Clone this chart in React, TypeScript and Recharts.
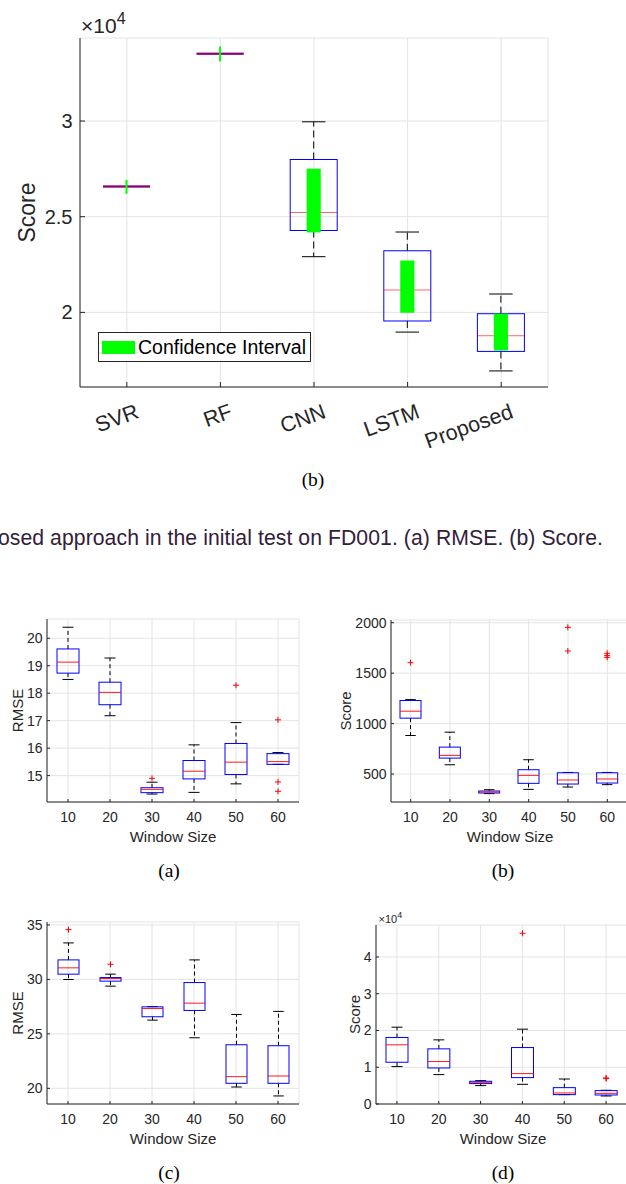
import React from 'react';
import { ComposedChart, Bar, XAxis, YAxis, CartesianGrid, Legend } from 'recharts';

const SANS = '"Liberation Sans", Arial, Helvetica, sans-serif';
const SERIF = '"Liberation Serif", "Times New Roman", Times, serif';
const AXIS = '#262626';
const GRID = '#e4e4e4';

// ---------- Top figure: Score per method (x10^4) ----------
const methods = ['SVR', 'RF', 'CNN', 'LSTM', 'Proposed'];
const methodLow = [26580, 33520, 22910, 18970, 16940];
const methodQ1 = [26580, 33520, 24280, 19550, 17960];
const methodMedian = [26580, 33520, 25220, 21170, 18780];
const methodQ3 = [26580, 33520, 27990, 23220, 19930];
const methodHigh = [26580, 33520, 29960, 24200, 20960];
const methodCiLow = [26200, 33120, 24180, 19980, 18010];
const methodCiHigh = [26930, 33900, 27510, 22710, 19930];
const methodDomain: [number, number] = [16100, 34340];
const methodTicks = [20000, 25000, 30000];

// ---------- Window size figures ----------
const windowSizes = ['10', '20', '30', '40', '50', '60'];

// (a) RMSE
const aLow = [18.5, 17.18, 14.33, 14.39, 14.7, 15.41];
const aQ1 = [18.73, 17.58, 14.38, 14.88, 15.04, 15.41];
const aMedian = [19.13, 18.03, 14.5, 15.16, 15.49, 15.51];
const aQ3 = [19.61, 18.4, 14.56, 15.55, 16.17, 15.8];
const aHigh = [20.4, 19.28, 14.76, 16.12, 16.93, 15.84];
const aOutliers = [[], [], [14.9], [], [18.29], [17.03, 14.77, 14.43]];
const aDomain: [number, number] = [14.04, 20.7];
const aTicks = [15, 16, 17, 18, 19, 20];

// (b) Score
const bLow = [882, 592, 306, 348, 371, 395];
const bQ1 = [1054, 658, 312, 408, 401, 411];
const bMedian = [1123, 685, 322, 487, 441, 451];
const bQ3 = [1229, 767, 332, 543, 513, 513];
const bHigh = [1238, 915, 345, 642, 516, 516];
const bOutliers = [[1604], [], [], [], [1954, 1720], [1697, 1674, 1657]];
const bDomain: [number, number] = [223, 2027];
const bTicks = [500, 1000, 1500, 2000];

// (c) RMSE
const cLow = [29.99, 29.38, 26.26, 24.64, 20.12, 19.3];
const cQ1 = [30.48, 29.84, 26.57, 27.15, 20.46, 20.46];
const cMedian = [31.06, 30.08, 27.33, 27.82, 21.07, 21.13];
const cQ3 = [31.79, 30.17, 27.48, 29.71, 24.0, 23.91];
const cHigh = [33.35, 30.48, 27.5, 31.79, 26.78, 27.06];
const cOutliers = [[34.57], [31.39], [], [], [], []];
const cDomain: [number, number] = [18.56, 35.27];
const cTicks = [20, 25, 30, 35];

// (d) Score
const dLow = [10180, 8000, 5000, 5360, 2550, 2180];
const dQ1 = [11360, 9800, 5550, 7180, 2550, 2450];
const dMedian = [16100, 11550, 5900, 8270, 3000, 2900];
const dQ3 = [18100, 15000, 6180, 15360, 4450, 3640];
const dHigh = [20900, 17450, 6360, 20360, 6800, 3730];
const dOutliers = [[], [], [], [46450], [], [7090, 6900]];
const dDomain: [number, number] = [0, 48700];
const dTicks = [0, 10000, 20000, 30000, 40000];

const scaled4 = (v: number) => String(Math.round((v / 10000) * 100) / 100);

type BoxProps = {
  cats: string[];
  lo: number[];
  q1: number[];
  med: number[];
  q3: number[];
  hi: number[];
  ciLo?: number[];
  ciHi?: number[];
  out?: number[][];
  width: number;
  height: number;
  margin: { top: number; right: number; bottom: number; left: number };
  yWidth: number;
  xHeight: number;
  domain: [number, number];
  ticks: number[];
  fmt?: (v: number) => string;
  fontSize: number;
  xFontSize?: number;
  barSize: number;
  dash: string;
  yGap: number;
  xGap: number;
  tickLen: number;
  medOpacity: number;
  rotate?: boolean;
  children?: React.ReactNode;
};

function BoxChart(p: BoxProps) {
  const rows = p.cats.map((cat, i) => {
    const vals = [p.lo[i], p.q1[i], p.med[i], p.q3[i], p.hi[i]];
    if (p.ciLo && p.ciHi) vals.push(p.ciLo[i], p.ciHi[i]);
    if (p.out) vals.push(...p.out[i]);
    return { cat, i, span: [Math.min(...vals), Math.max(...vals)] };
  });

  const shape = (sp: any) => {
    const i: number = sp.payload && typeof sp.payload.i === 'number' ? sp.payload.i : sp.index;
    const [vMin, vMax] = rows[i].span;
    const x = Number(sp.x);
    const y = Number(sp.y);
    const w = Number(sp.width);
    const h = Number(sp.height);
    const top = Math.min(y, y + h);
    const bot = Math.max(y, y + h);
    const py = (v: number) => (vMax === vMin ? top : bot - ((v - vMin) / (vMax - vMin)) * (bot - top));
    const cx = x + w / 2;
    const cap = w / 4;
    const degenerate = p.q3[i] <= p.q1[i];
    const yq1 = py(p.q1[i]);
    const yq3 = py(p.q3[i]);
    const ymed = py(p.med[i]);
    const ylo = py(p.lo[i]);
    const yhi = py(p.hi[i]);
    const ciW = degenerate ? 2 : w * 0.3;
    const outs = p.out ? p.out[i] : [];
    return (
      <g>
        {p.hi[i] > p.q3[i] && (
          <line x1={cx} x2={cx} y1={yq3} y2={yhi} stroke="#000" strokeDasharray={p.dash} />
        )}
        {p.lo[i] < p.q1[i] && (
          <line x1={cx} x2={cx} y1={yq1} y2={ylo} stroke="#000" strokeDasharray={p.dash} />
        )}
        {!degenerate && <line x1={cx - cap} x2={cx + cap} y1={yhi} y2={yhi} stroke="#000" />}
        {!degenerate && <line x1={cx - cap} x2={cx + cap} y1={ylo} y2={ylo} stroke="#000" />}
        {degenerate ? (
          <line x1={x} x2={x + w} y1={yq3} y2={yq3} stroke="#0000ff" strokeWidth={2} />
        ) : (
          <rect x={x} y={yq3} width={w} height={yq1 - yq3} fill="none" stroke="#0000ff" />
        )}
        <line
          x1={x}
          x2={x + w}
          y1={ymed}
          y2={ymed}
          stroke="#ff0000"
          strokeOpacity={p.medOpacity}
          strokeWidth={degenerate ? 2 : 1}
        />
        {p.ciLo && p.ciHi && (
          <rect
            x={cx - ciW / 2}
            y={py(p.ciHi[i])}
            width={ciW}
            height={py(p.ciLo[i]) - py(p.ciHi[i])}
            fill="#00ff00"
          />
        )}
        {outs.map((v, k) => (
          <g key={k}>
            <line x1={cx - 3} x2={cx + 3} y1={py(v)} y2={py(v)} stroke="#ff0000" />
            <line x1={cx} x2={cx} y1={py(v) - 3} y2={py(v) + 3} stroke="#ff0000" />
          </g>
        ))}
      </g>
    );
  };

  const tickStyle = { fontSize: p.fontSize, fontFamily: SANS, fill: AXIS };
  const xSize = p.xFontSize || p.fontSize;
  const rotTick = (tp: any) => {
    const ax = tp.x + 8;
    return (
      <text
        x={ax}
        y={tp.y}
        dy="0.71em"
        textAnchor="end"
        transform={`rotate(-20 ${ax} ${tp.y})`}
        fontSize={xSize}
        fontFamily={SANS}
        fill={AXIS}
      >
        {tp.payload.value}
      </text>
    );
  };

  return (
    <ComposedChart width={p.width} height={p.height} data={rows} margin={p.margin}>
      <CartesianGrid stroke={GRID} />
      <XAxis
        dataKey="cat"
        type="category"
        height={p.xHeight}
        interval={0}
        axisLine={{ stroke: AXIS }}
        tickLine={{ stroke: AXIS }}
        tickSize={-p.tickLen}
        tickMargin={p.tickLen + p.xGap}
        tick={p.rotate ? rotTick : tickStyle}
      />
      <XAxis
        xAxisId="top"
        dataKey="cat"
        type="category"
        orientation="top"
        mirror
        height={0}
        interval={0}
        tick={false}
        tickSize={p.tickLen}
        axisLine={{ stroke: AXIS }}
        tickLine={{ stroke: AXIS }}
      />
      <YAxis
        type="number"
        domain={p.domain}
        allowDataOverflow
        ticks={p.ticks}
        interval={0}
        tickFormatter={p.fmt}
        width={p.yWidth}
        axisLine={{ stroke: AXIS }}
        tickLine={{ stroke: AXIS }}
        tickSize={-p.tickLen}
        tickMargin={p.tickLen + p.yGap}
        tick={tickStyle}
      />
      <YAxis
        yAxisId="right"
        orientation="right"
        mirror
        width={0}
        type="number"
        domain={p.domain}
        allowDataOverflow
        ticks={p.ticks}
        interval={0}
        tick={false}
        tickSize={p.tickLen}
        axisLine={{ stroke: AXIS }}
        tickLine={{ stroke: AXIS }}
      />
      <Bar dataKey="span" barSize={p.barSize} shape={shape} isAnimationActive={false} />
      {p.children}
    </ComposedChart>
  );
}

const legendContent = () => (
  <div
    style={{
      width: 213,
      height: 30,
      boxSizing: 'border-box',
      border: `1px solid ${AXIS}`,
      background: '#fff',
      display: 'flex',
      alignItems: 'center',
      fontFamily: SANS,
      fontSize: 19.5,
      color: '#000',
      whiteSpace: 'nowrap',
    }}
  >
    <span style={{ display: 'inline-block', width: 33, height: 13, background: '#00ff00', marginLeft: 3, marginRight: 3 }} />
    <span>Confidence Interval</span>
  </div>
);

const abs = (left: number, top: number): React.CSSProperties => ({ position: 'absolute', left, top });

export default function App() {
  const small = { fontSize: 14, dash: '4 3', yGap: 4.5, xGap: 10.5, tickLen: 3, medOpacity: 0.9, xHeight: 48, cats: windowSizes };
  return (
    <div style={{ position: 'absolute', left: 0, top: 0, width: 626, height: 1184, overflow: 'hidden', background: '#fff' }}>
      <div style={abs(0, 0)}>
        <BoxChart
          cats={methods}
          lo={methodLow}
          q1={methodQ1}
          med={methodMedian}
          q3={methodQ3}
          hi={methodHigh}
          ciLo={methodCiLow}
          ciHi={methodCiHigh}
          width={626}
          height={460}
          margin={{ top: 38, right: 78, bottom: 13, left: 0 }}
          yWidth={80}
          xHeight={60}
          domain={methodDomain}
          ticks={methodTicks}
          fmt={scaled4}
          fontSize={20}
          xFontSize={21.5}
          barSize={47}
          dash="7 4"
          yGap={7.5}
          xGap={16}
          tickLen={5}
          medOpacity={0.6}
          rotate
        >
          <Legend
            layout="horizontal"
            align="center"
            verticalAlign="middle"
            content={legendContent}
            wrapperStyle={{ position: 'absolute', left: 98, top: 332, width: 213, height: 30 }}
          />
        </BoxChart>
      </div>

      <div style={abs(0, 600)}>
        <BoxChart
          {...small}
          lo={aLow}
          q1={aQ1}
          med={aMedian}
          q3={aQ3}
          hi={aHigh}
          out={aOutliers}
          width={313}
          height={250}
          margin={{ top: 19, right: 14, bottom: 0, left: 0 }}
          yWidth={47}
          domain={aDomain}
          ticks={aTicks}
          barSize={22}
        />
      </div>

      <div style={abs(313, 600)}>
        <BoxChart
          {...small}
          lo={bLow}
          q1={bQ1}
          med={bMedian}
          q3={bQ3}
          hi={bHigh}
          out={bOutliers}
          width={320}
          height={250}
          margin={{ top: 20, right: 6, bottom: 0, left: 0 }}
          yWidth={78}
          domain={bDomain}
          ticks={bTicks}
          barSize={21}
        />
      </div>

      <div style={abs(0, 900)}>
        <BoxChart
          {...small}
          lo={cLow}
          q1={cQ1}
          med={cMedian}
          q3={cQ3}
          hi={cHigh}
          out={cOutliers}
          width={313}
          height={252}
          margin={{ top: 22, right: 14, bottom: 0, left: 0 }}
          yWidth={47}
          domain={cDomain}
          ticks={cTicks}
          barSize={21}
        />
      </div>

      <div style={abs(313, 900)}>
        <BoxChart
          {...small}
          lo={dLow}
          q1={dQ1}
          med={dMedian}
          q3={dQ3}
          hi={dHigh}
          out={dOutliers}
          width={320}
          height={252}
          margin={{ top: 25, right: 6, bottom: 0, left: 0 }}
          yWidth={63}
          domain={dDomain}
          ticks={dTicks}
          fmt={scaled4}
          barSize={22}
        />
      </div>

      <svg width={626} height={1184} style={{ position: 'absolute', left: 0, top: 0, pointerEvents: 'none' }}>
        <g fontFamily={SANS} fill={AXIS}>
          <text x={81} y={33} fontSize={21}>
            ×10
            <tspan dy={-9} fontSize={16}>4</tspan>
          </text>
          <text transform="translate(35 212.5) rotate(-90)" textAnchor="middle" fontSize={23}>Score</text>

          <text transform="translate(23.3 710.5) rotate(-90)" textAnchor="middle" fontSize={15}>RMSE</text>
          <text x={173} y={842} textAnchor="middle" fontSize={15}>Window Size</text>
          <text transform="translate(351 711) rotate(-90)" textAnchor="middle" fontSize={15}>Score</text>
          <text x={510} y={842} textAnchor="middle" fontSize={15}>Window Size</text>

          <text transform="translate(23.3 1013) rotate(-90)" textAnchor="middle" fontSize={15}>RMSE</text>
          <text x={173} y={1144} textAnchor="middle" fontSize={15}>Window Size</text>
          <text transform="translate(359.7 1014.5) rotate(-90)" textAnchor="middle" fontSize={15}>Score</text>
          <text x={503} y={1144} textAnchor="middle" fontSize={15}>Window Size</text>
          <text x={378.5} y={922.7} fontSize={11}>
            ×10
            <tspan dy={-5} fontSize={9}>4</tspan>
          </text>
        </g>
        <g fontFamily={SERIF} fill="#000" textAnchor="middle" fontSize={19.5}>
          <text x={313} y={486}>(b)</text>
          <text x={169} y={876.5}>(a)</text>
          <text x={503} y={876.5}>(b)</text>
          <text x={169} y={1178.5}>(c)</text>
          <text x={503} y={1178.5}>(d)</text>
        </g>
        <text x={-14} y={545} fontFamily={SANS} fontSize={21.2} fill="#33203a" textLength={617} lengthAdjust="spacing">
          posed approach in the initial test on FD001. (a) RMSE. (b) Score.
        </text>
      </svg>
    </div>
  );
}
